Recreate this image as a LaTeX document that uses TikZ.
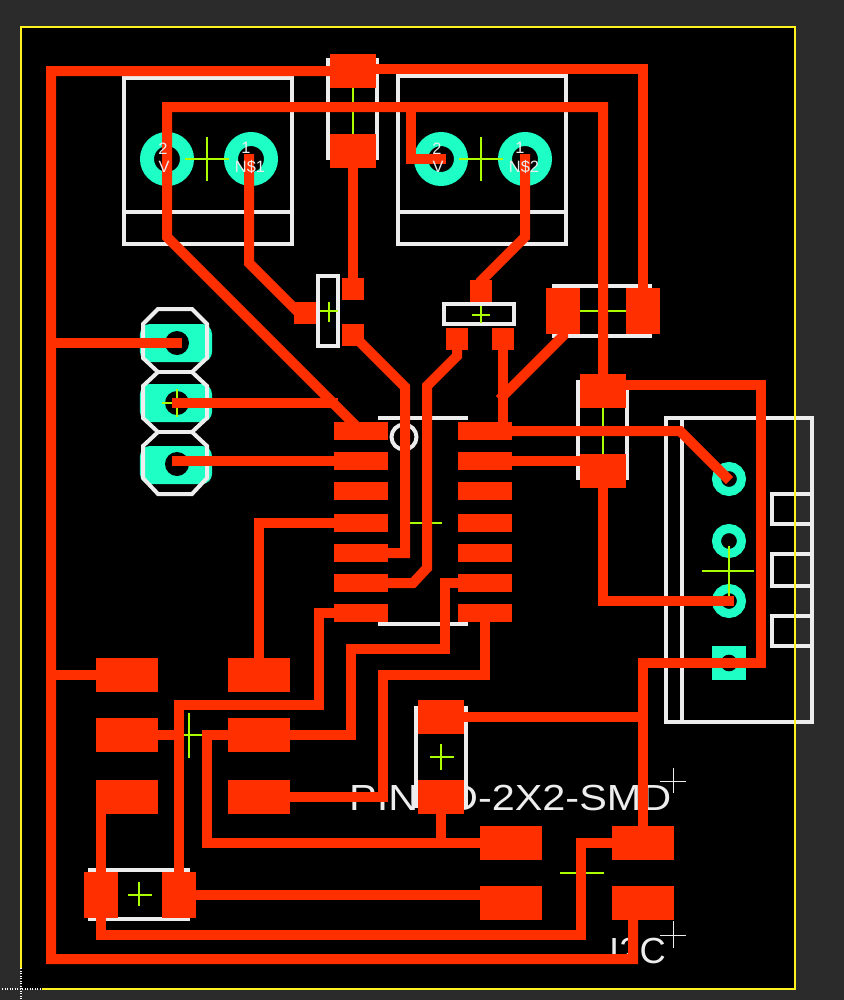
\documentclass[tikz,border=0pt]{standalone}
\usepackage{fontspec}
\setmainfont{Liberation Sans}
\newfontfamily\boardfont[FakeStretch=1.14]{Liberation Sans}

\definecolor{pcbback}{HTML}{2B2B2B}
\definecolor{pcbred}{HTML}{FF2F00}
\definecolor{pcbteal}{HTML}{1EFFC5}
\definecolor{pcbsilk}{HTML}{EDEDED}
\definecolor{pcbcross}{HTML}{AAFF00}
\definecolor{pcbedge}{HTML}{FFF21E}

\tikzset{
    trace/.style={draw=pcbred,line width=0.3cm,line cap=rect,line join=miter},
    silk/.style={draw=pcbsilk,line width=0.12cm},
    cross/.style={draw=pcbcross,line width=0.045cm},
    origin/.style={draw=pcbsilk,line width=0.03cm},
    pad/.style={fill=pcbred,inner sep=0pt,outer sep=0pt},
    smdpad/.style={pad,minimum width=1.86cm,minimum height=1.02cm},
    capflat/.style={pad,minimum width=1.38cm,minimum height=1.02cm},
    capside/.style={pad,minimum width=1.02cm,minimum height=1.38cm},
    soicpad/.style={pad,minimum width=1.62cm,minimum height=0.54cm},
    sotpad/.style={pad,minimum width=0.66cm,minimum height=0.66cm},
    bigring/.style={circle,draw=pcbteal,fill=black,line width=0.42cm,minimum size=1.2cm,inner sep=0pt,outer sep=0pt},
    smallring/.style={circle,draw=pcbteal,fill=black,line width=0.27cm,minimum size=0.75cm,inner sep=0pt,outer sep=0pt},
    hole/.style={circle,fill=black,minimum size=0.72cm,inner sep=0pt,outer sep=0pt},
    longpad/.style={fill=pcbteal,rounded corners=0.3cm,minimum width=2.16cm,minimum height=1.14cm,inner sep=0pt,outer sep=0pt},
    boardlabel/.style={text=pcbsilk,inner sep=0pt,font=\boardfont\fontsize{31}{31}\selectfont},
    padlabel/.style={text=pcbsilk,inner sep=0pt,font=\fontsize{14}{14}\selectfont}
}

\begin{document}
\begin{tikzpicture}[x=0.03cm,y=-0.03cm]
    \useasboundingbox (0,0) rectangle (844,1000);
    \fill[pcbback] (0,0) rectangle (844,1000);
    \fill[black] (21,27) rectangle (795,989);

    % drilled pads
    \node[bigring] (terma) at (167,159) {};
    \node[bigring] (termb) at (251,159) {};
    \node[bigring] (termc) at (441,159) {};
    \node[bigring] (termd) at (525,159) {};
    \node[longpad] (hdra) at (176,343) {};
    \node[longpad] (hdrb) at (176,403) {};
    \node[longpad] (hdrc) at (176,465) {};
    \node[hole] (hdraH) at (177,343) {};
    \node[hole] (hdrbH) at (177,403) {};
    \node[hole] (hdrcH) at (177,464) {};
    \node[smallring] (conna) at (729,479) {};
    \node[smallring] (connb) at (729,541) {};
    \node[smallring] (connc) at (729,601) {};
    \node[fill=pcbteal,minimum size=1.02cm,inner sep=0pt,outer sep=0pt] (connd) at (729,663) {};
    \node[hole,minimum size=0.5cm] (conndH) at (729,663) {};

    % outlines
    \draw[silk] (124,78) rectangle (292,244);
    \draw[silk] (124,212) -- (292,212);
    \draw[silk] (398,76) rectangle (566,244);
    \draw[silk] (398,212) -- (566,212);
    \draw[silk] (328,58) -- (328,160);
    \draw[silk] (377,58) -- (377,160);
    \draw[silk] (318,276) rectangle (338,346);
    \draw[silk] (444,304) rectangle (514,324);
    \draw[silk] (552,286) -- (652,286);
    \draw[silk] (552,336) -- (652,336);
    \draw[silk] (578,380) -- (578,480);
    \draw[silk] (627,380) -- (627,480);
    \draw[silk] (378,418) -- (468,418);
    \draw[silk] (378,624) -- (468,624);
    \draw[silk] (404,437) circle (12.5);
    \draw[silk] (666,418) rectangle (812,722);
    \draw[silk] (682,418) -- (682,722);
    \draw[silk] (772,494) rectangle (812,524);
    \draw[silk] (772,554) rectangle (812,586);
    \draw[silk] (772,616) rectangle (812,646);
    \draw[silk] (416,706) -- (416,808);
    \draw[silk] (466,706) -- (466,808);
    \draw[silk] (88,870) -- (190,870);
    \draw[silk] (88,919) -- (190,919);
    \draw[silk,line join=miter] (158,309) -- (192,309) -- (207,324) -- (207,358) -- (192,372) -- (207,386) -- (207,418) -- (192,432) -- (207,446) -- (207,478) -- (192,494) -- (158,494) -- (143,478) -- (143,446) -- (158,432) -- (143,418) -- (143,386) -- (158,372) -- (143,358) -- (143,324) -- cycle;
    \draw[silk] (158,372) -- (192,372);
    \draw[silk] (158,432) -- (192,432);

    % part centres
    \draw[cross] (185,159) -- (229,159) (207,137) -- (207,181);
    \draw[cross] (459,159) -- (503,159) (481,137) -- (481,181);
    \draw[cross] (353,88) -- (353,134);
    \draw[cross] (320,311) -- (338,311) (329,302) -- (329,322);
    \draw[cross] (472,315) -- (490,315) (481,306) -- (481,323);
    \draw[cross] (580,311) -- (626,311);
    \draw[cross] (603,408) -- (603,454);
    \draw[cross] (162,403) -- (192,403) (177,389) -- (177,417);
    \draw[cross] (410,523) -- (442,523);
    \draw[cross] (702,571) -- (754,571) (729,546) -- (729,596);
    \draw[cross] (167,735) -- (203,735) (189,713) -- (189,758);
    \draw[cross] (430,757) -- (454,757) (441,744) -- (441,770);
    \draw[cross] (128,895) -- (152,895) (139,882) -- (139,906);
    \draw[cross] (560,873) -- (604,873);

    % values under the copper
    \node[boardlabel,anchor=base west] (pinname) at (349,810) {PINHD-2X2-SMD};
    \node[boardlabel,anchor=base west,font=\fontsize{31}{31}\selectfont] (i2cname) at (609,963) {I2C};
    \draw[origin] (660,781) -- (686,781) (673,768) -- (673,793);
    \draw[origin] (660,935) -- (686,935) (673,921) -- (673,948);

    % copper pads
    \node[capflat] (capa) at (353,71) {};
    \node[capflat] (capb) at (353,151) {};
    \node[capside] (capc) at (563,311) {};
    \node[capside] (capd) at (643,311) {};
    \node[capflat] (cape) at (603,391) {};
    \node[capflat] (capf) at (603,471) {};
    \node[capflat] (capg) at (441,717) {};
    \node[capflat] (caph) at (441,797) {};
    \node[capside] (capi) at (101,895) {};
    \node[capside] (capj) at (179,895) {};
    \node[sotpad] (qag) at (305,313) {};
    \node[sotpad] (qad) at (353,289) {};
    \node[sotpad] (qas) at (353,335) {};
    \node[sotpad] (qbd) at (481,291) {};
    \node[sotpad] (qbg) at (457,339) {};
    \node[sotpad] (qbs) at (503,339) {};
    \node[soicpad] (icla) at (361,431) {};
    \node[soicpad] (iclb) at (361,461) {};
    \node[soicpad] (iclc) at (361,491) {};
    \node[soicpad] (icld) at (361,523) {};
    \node[soicpad] (icle) at (361,553) {};
    \node[soicpad] (iclf) at (361,583) {};
    \node[soicpad] (iclg) at (361,613) {};
    \node[soicpad] (icra) at (485,431) {};
    \node[soicpad] (icrb) at (485,461) {};
    \node[soicpad] (icrc) at (485,491) {};
    \node[soicpad] (icrd) at (485,523) {};
    \node[soicpad] (icre) at (485,553) {};
    \node[soicpad] (icrf) at (485,583) {};
    \node[soicpad] (icrg) at (485,613) {};
    \node[smdpad] (isa) at (127,675) {};
    \node[smdpad] (isb) at (127,735) {};
    \node[smdpad] (isc) at (127,797) {};
    \node[smdpad] (isd) at (259,675) {};
    \node[smdpad] (ise) at (259,735) {};
    \node[smdpad] (isf) at (259,797) {};
    \node[smdpad] (pina) at (511,843) {};
    \node[smdpad] (pinb) at (511,903) {};
    \node[smdpad] (pinc) at (643,843) {};
    \node[smdpad] (pind) at (643,903) {};

    % traces
    \draw[trace] (capa.center) -- (51,71) -- (51,959) -- (633,959) -- ([xshift=-0.3cm]pind.center);
    \draw[trace] ([yshift=0.06cm]capa.center) -- (643,69) -- (capd.center);
    \draw[trace] (capb.center) -- (qad.center);
    \draw[trace] (icla.center) -- (167,237) -- (167,107) -- (603,107) -- (cape.center);
    \draw[trace] (411,107) -- (411,159) -- (termc.center);
    \draw[trace] ([xshift=-0.06cm]termb.center) -- (249,263) -- (299,313) -- (qag.center);
    \draw[trace] (termd.center) -- (525,237) -- (481,281) -- (qbd.center);
    \draw[trace] (qas.center) -- (405,387) -- (405,553) -- (icle.center);
    \draw[trace] (qbg.center) -- (457,356) -- (427,386) -- (427,568) -- (413,583) -- (iclf.center);
    \draw[trace] (qbs.center) -- (qbs.center |- icra.center);
    \draw[trace] (capc.center) -- (563,336) -- (503,396);
    \draw[trace] (icra.center) -- (680,431) -- (726,477);
    \draw[trace] (icrb.center) -- (capf.center |- icrb.center);
    \draw[trace] ([yshift=0.18cm]cape.center) -- (761,385) -- (761,663) -- (643,663) -- (pinc.center);
    \draw[trace] (capf.center) -- (603,601) -- (connc.center);
    \draw[trace] (51,343) -- (hdraH.center);
    \draw[trace] (hdrbH.center) -- (333,403);
    \draw[trace] ([yshift=0.09cm]hdrcH.center) -- (iclb.center);
    \draw[trace] (icld.center) -| (isd.center);
    \draw[trace] (iclg.center) -- (319,613) -- (319,705) -- (179,705) -- (capj.center);
    \draw[trace] (isb.center) -- (179,735);
    \draw[trace] (ise.center) -- (207,735) -- (207,843) -- (pina.center);
    \draw[trace] (ise.center) -- (351,735) -- (351,649) -- (445,649) -- (445,583) -- (icrf.center);
    \draw[trace] (icrg.center) -- (485,675) -- (383,675) -- (383,797) -- (isf.center);
    \draw[trace] (capg.center) -- (643,717);
    \draw[trace] (caph.center) -- (441,843);
    \draw[trace] (pinc.center) -- (581,843) -- (581,935) -- (101,935) -- (isc.center -| capi.center);
    \draw[trace] (capj.center) -- (pinb.center |- capj.center);
    \draw[trace] (51,675) -- (isa.center);

    % pad numbers and net names
    \node[padlabel] (numa) at (163,149) {2};
    \node[padlabel] (neta) at (164,167) {V};
    \node[padlabel] (numb) at (246,148) {1};
    \node[padlabel] (netb) at (250,167) {N\$1};
    \node[padlabel] (numc) at (437,149) {2};
    \node[padlabel] (netc) at (438,167) {V};
    \node[padlabel] (numd) at (520,148) {1};
    \node[padlabel] (netd) at (524,167) {N\$2};

    % board edge
    \draw[pcbedge,line width=0.05cm] (21,968) -- (21,27) -- (795,27) -- (795,989) -- (42,989);
    \draw[white,line width=0.04cm,densely dotted] (2,989) -- (41,989);
    \draw[white,line width=0.04cm,densely dotted] (21,968) -- (21,1000);
\end{tikzpicture}
\end{document}
